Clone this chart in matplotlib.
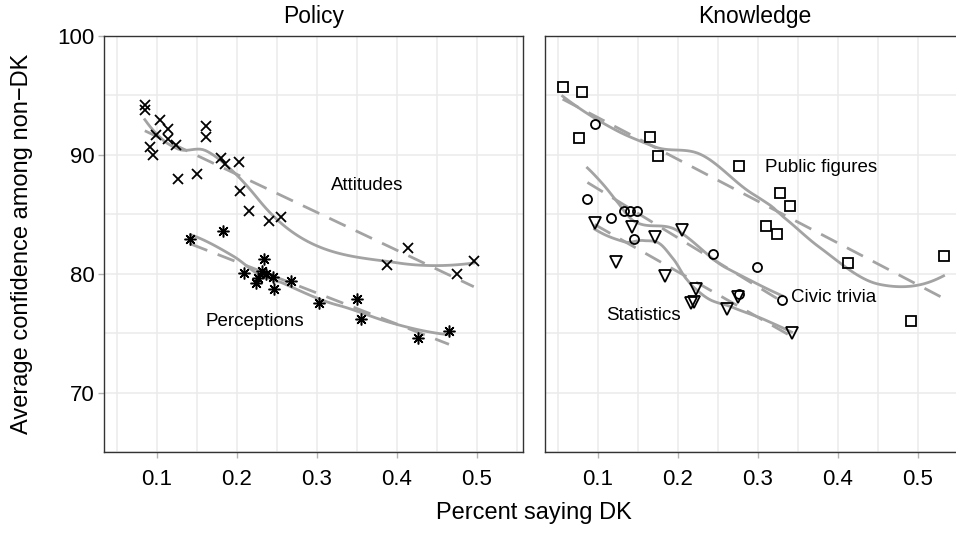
import numpy as np
import matplotlib
matplotlib.use("Agg")
import matplotlib.pyplot as plt

plt.rcParams['font.family'] = ['Liberation Sans', 'DejaVu Sans']

# Policy panel
att_x = [0.085, 0.085, 0.104, 0.114, 0.099, 0.114, 0.124, 0.091, 0.095, 0.127,
         0.150, 0.161, 0.161, 0.180, 0.185, 0.2025, 0.204, 0.215, 0.240, 0.255,
         0.414, 0.387, 0.496, 0.475]
att_y = [94.2, 93.8, 92.9, 92.2, 91.7, 91.3, 90.8, 90.7, 90.0, 88.0,
         88.4, 92.4, 91.5, 89.7, 89.2, 89.4, 87.0, 85.3, 84.4, 84.8,
         82.2, 80.7, 81.1, 80.0]
per_x = [0.142, 0.183, 0.209, 0.234, 0.232, 0.236, 0.227, 0.224, 0.2455, 0.247,
         0.268, 0.303, 0.350, 0.355, 0.426, 0.465]
per_y = [82.9, 83.6, 80.05, 81.2, 80.2, 80.0, 79.6, 79.2, 79.7, 78.7,
         79.35, 77.5, 77.9, 76.2, 74.6, 75.2]

# Knowledge panel
pub_x = [0.056, 0.080, 0.077, 0.165, 0.175, 0.276, 0.327, 0.340, 0.310, 0.324,
         0.412, 0.532, 0.491]
pub_y = [95.7, 95.3, 91.4, 91.5, 89.9, 89.1, 86.8, 85.7, 84.0, 83.3,
         80.9, 81.5, 76.0]
civ_x = [0.096, 0.087, 0.117, 0.133, 0.140, 0.149, 0.145, 0.244, 0.299, 0.2765,
         0.330]
civ_y = [92.6, 86.3, 84.7, 85.3, 85.3, 85.3, 82.9, 81.7, 80.6, 78.3,
         77.8]
sta_x = [0.096, 0.143, 0.171, 0.205, 0.123, 0.184, 0.223, 0.220, 0.217, 0.262,
         0.2755, 0.342]
sta_y = [84.3, 83.9, 83.1, 83.7, 81.0, 79.8, 78.7, 77.6, 77.5, 77.0,
         78.0, 75.0]

LINE = '#a3a3a3'


def local_fit(x, y, x0, q):
    d = np.abs(x - x0)
    h = np.sort(d)[q - 1]
    w = np.clip(1 - (d / h) ** 3, 0, None) ** 3
    c = np.polyfit(x - x0, y, 2, w=np.sqrt(w))
    return c[2], c[1]


def loess(x, y, span=0.75, num=120):
    # loess with kd-tree vertices + cubic hermite interpolation, like R
    x = np.asarray(x, float)
    y = np.asarray(y, float)
    n = len(x)
    q = int(np.floor(n * span))
    fc = int(np.floor(n * span * 0.2))
    xs = np.sort(x)
    mu = 0.005 * (xs[-1] - xs[0])
    verts = {xs[0] - mu, xs[-1] + mu}

    def split(pts):
        k = len(pts)
        if k <= max(fc, 1):
            return
        m = (1 + k) // 2
        v = (pts[m - 1] + pts[m]) / 2 if m < k else pts[m - 1]
        if v <= pts[0] or v >= pts[-1]:
            return
        verts.add(v)
        split(pts[:m])
        split(pts[m:])

    split(xs)
    vx = np.array(sorted(verts))
    vals = np.array([local_fit(x, y, v, q) for v in vx])
    gx = np.linspace(xs[0], xs[-1], num)
    gy = []
    for g in gx:
        i = min(max(np.searchsorted(vx, g) - 1, 0), len(vx) - 2)
        x0, x1 = vx[i], vx[i + 1]
        hh = x1 - x0
        t = (g - x0) / hh
        f0, d0 = vals[i]
        f1, d1 = vals[i + 1]
        gy.append((2 * t**3 - 3 * t**2 + 1) * f0 + (t**3 - 2 * t**2 + t) * hh * d0
                  + (-2 * t**3 + 3 * t**2) * f1 + (t**3 - t**2) * hh * d1)
    return gx, np.array(gy)


def draw_group(ax, x, y, marker, ms, mew=1.3):
    gx, gy = loess(x, y)
    ax.plot(gx, gy, color=LINE, lw=2, zorder=2)
    b = np.polyfit(x, y, 1)
    lx = np.array([min(x), max(x)])
    ax.plot(lx, np.polyval(b, lx), color=LINE, lw=2, dashes=(6.5, 4), zorder=2)
    ax.plot(x, y, ls='none', marker=marker, ms=ms, mfc='none', mec='black',
            mew=mew, zorder=3)


fig = plt.figure(figsize=(9.56, 5.33), dpi=100)
ax1 = fig.add_axes([104 / 956, 1 - 452 / 533, 419 / 956, 416 / 533])
ax2 = fig.add_axes([545 / 956, 1 - 452 / 533, 419 / 956, 416 / 533])

for ax, title in [(ax1, 'Policy'), (ax2, 'Knowledge')]:
    ax.set_xlim(0.034, 0.5575)
    ax.set_ylim(65.0, 100.0)
    ax.set_xticks([0.1, 0.2, 0.3, 0.4, 0.5])
    ax.set_xticks(np.arange(0.05, 0.56, 0.1), minor=True)
    ax.set_yticks([70, 80, 90, 100])
    ax.set_yticks([65, 75, 85, 95], minor=True)
    ax.grid(True, which='both', color='#ebebeb', lw=1.1, zorder=0)
    ax.set_axisbelow(True)
    ax.tick_params(which='major', length=4, width=1, color='#b5b5b5',
                   labelsize=16)
    ax.tick_params(axis='x', pad=8)
    ax.tick_params(axis='y', pad=3)
    ax.tick_params(which='minor', length=0)
    for s in ax.spines.values():
        s.set_color('#333333')
        s.set_linewidth(1)
    ax.set_title(title, fontsize=16.5, pad=9)

ax2.set_yticklabels([])
ax2.tick_params(axis='y', length=0)

draw_group(ax1, att_x, att_y, 'x', 7.5)
draw_group(ax1, per_x, per_y, (8, 2, 0), 8.5, 1.1)
draw_group(ax2, pub_x, pub_y, 's', 6.5)
draw_group(ax2, civ_x, civ_y, 'o', 6.5)
draw_group(ax2, sta_x, sta_y, 'v', 8)

ax1.text(0.363, 87.4, 'Attitudes', fontsize=13.5, ha='center', va='center')
ax1.text(0.222, 76.0, 'Perceptions', fontsize=13.5, ha='center', va='center')
ax2.text(0.379, 88.9, 'Public figures', fontsize=13.5, ha='center', va='center')
ax2.text(0.341, 77.96, 'Civic trivia', fontsize=13.5, ha='left', va='center')
ax2.text(0.157, 76.5, 'Statistics', fontsize=13.5, ha='center', va='center')

fig.text(534 / 956, 1 - 513 / 533, 'Percent saying DK', fontsize=17,
         ha='center', va='center')
fig.text(22 / 956, 1 - 244 / 533, 'Average confidence among non\u2212DK',
         fontsize=17, ha='center', va='center', rotation=90)

fig.savefig('out.png', dpi=100)
